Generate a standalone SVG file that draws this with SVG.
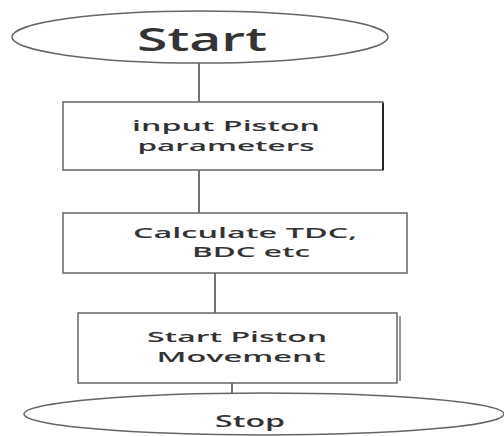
<svg xmlns="http://www.w3.org/2000/svg" width="504" height="436" viewBox="0 0 504 436">
<style>
.shape{fill:#fff;stroke:#666;stroke-width:1.5}
.edge{stroke:#444;stroke-width:1.5;fill:none}
text{font-family:"Open Sans","DejaVu Sans",sans-serif;font-weight:600;fill:#333;text-anchor:middle}
.lbl{font-size:15px}
</style>
<rect width="504" height="436" fill="#fff"/>
<g id="connectors">
<line class="edge" x1="199" y1="63" x2="199" y2="102"/>
<line class="edge" x1="199" y1="170" x2="199" y2="213"/>
<line class="edge" x1="215" y1="273" x2="215" y2="313"/>
<line class="edge" x1="232" y1="383" x2="232" y2="393"/>
</g>
<g id="start">
<ellipse class="shape" cx="200" cy="37" rx="188" ry="26"/>
<text x="202" y="51" font-size="32" textLength="130" lengthAdjust="spacingAndGlyphs">Start</text>
</g>
<g id="input">
<rect class="shape" x="63" y="102" width="320" height="68"/>
<line x1="383" y1="103" x2="383" y2="170" stroke="#222" stroke-width="2"/>
<text class="lbl" x="226" y="131" textLength="188" lengthAdjust="spacingAndGlyphs">input Piston</text>
<text class="lbl" x="226" y="151" textLength="177" lengthAdjust="spacingAndGlyphs">parameters</text>
</g>
<g id="calc">
<rect class="shape" x="63" y="213" width="344" height="60"/>
<text class="lbl" x="245" y="238" textLength="224" lengthAdjust="spacingAndGlyphs">Calculate TDC,</text>
<text class="lbl" x="251" y="257" textLength="118" lengthAdjust="spacingAndGlyphs">BDC etc</text>
</g>
<g id="move">
<rect class="shape" x="78" y="313" width="319" height="70"/>
<line x1="400" y1="316" x2="400" y2="381" stroke="#777" stroke-width="1.5"/>
<text class="lbl" x="237" y="342" textLength="180" lengthAdjust="spacingAndGlyphs">Start Piston</text>
<text class="lbl" x="241" y="362" textLength="169" lengthAdjust="spacingAndGlyphs">Movement</text>
</g>
<g id="stop">
<ellipse class="shape" cx="264" cy="414" rx="240" ry="21"/>
<text x="250" y="427" font-size="17" textLength="70" lengthAdjust="spacingAndGlyphs">Stop</text>
</g>
</svg>
